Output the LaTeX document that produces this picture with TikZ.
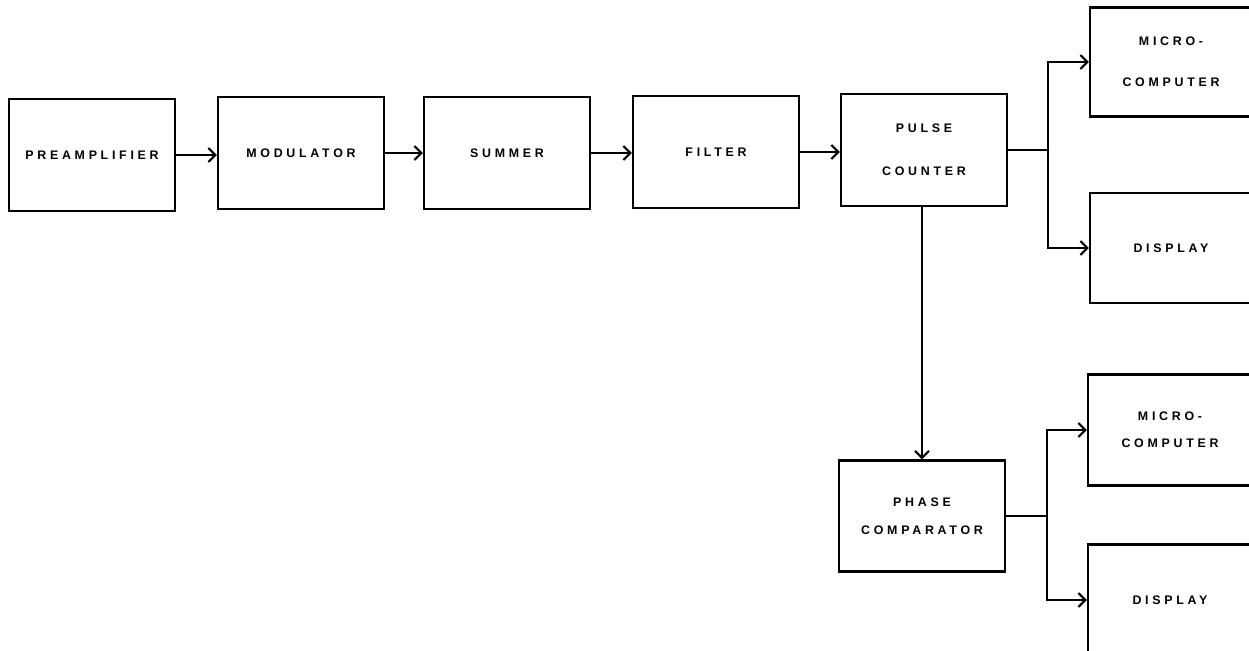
\documentclass[tikz,border=0pt]{standalone}
\usepackage{fontspec}
\newfontfamily\blockfont[LetterSpace=30]{Liberation Sans}
\usetikzlibrary{arrows.meta}

\begin{document}
\begin{tikzpicture}[x=0.5pt,y=-0.5pt,>={Straight Barb[length=3.5pt,width=7pt]},line cap=round]
  % Styles
  \tikzstyle{block}=[draw,line width=1.2pt,rectangle,inner sep=0pt,align=center,
    minimum width=83pt,minimum height=56pt,
    font=\blockfont\bfseries\fontsize{6.2}{7.5}\selectfont]
  \tikzstyle{signal}=[line width=1pt]

  \useasboundingbox (0,0) rectangle (1249,651);
  \clip (0,0) rectangle (1249,651);

  % Main chain
  \node[block] (pre) at (92,155)  {PREAMPLIFIER};
  \node[block] (mod) at (301,153) {MODULATOR};
  \node[block] (sum) at (507,153) {SUMMER};
  \node[block] (fil) at (716,152) {FILTER};
  \node[block] (pls) at (924,150) {PULSE\\[14pt]COUNTER};

  % Outputs of the counter
  \node[block,minimum width=81pt,minimum height=54.5pt] (mc1) at (1171,62)  {MICRO-\\[13pt]COMPUTER};
  \node[block,minimum width=81pt,minimum height=55pt]   (dp1) at (1171,248) {DISPLAY};

  % Phase branch
  \node[block,minimum height=55.5pt] (phc) at (922,516) {PHASE\\[6.5pt]COMPARATOR};
  \node[block,minimum width=82pt,minimum height=55.5pt] (mc2) at (1170,430) {MICRO-\\[6pt]COMPUTER};
  \node[block,minimum width=82pt,minimum height=55.5pt] (dp2) at (1170,600) {DISPLAY};

  \coordinate (b1) at (1048,150);
  \coordinate (b2) at (1047,514);

  % The graphic
  \foreach \a/\b in {pre/mod, mod/sum, sum/fil, fil/pls}
    \draw[signal,->] (\a.east) -- (\a.east -| \b.west);
  \draw[signal,->] (pls.south -| phc.north) -- (phc.north);

  \draw[signal] (pls.east) -- (b1);
  \draw[signal,->] (b1) |- (mc1.west);
  \draw[signal,->] (b1) |- (dp1.west);

  \draw[signal] (phc.east) -- (b2 |- phc.east) -- (b2);
  \draw[signal,->] (b2) |- (mc2.west);
  \draw[signal,->] (b2) |- (dp2.west);
\end{tikzpicture}
\end{document}
